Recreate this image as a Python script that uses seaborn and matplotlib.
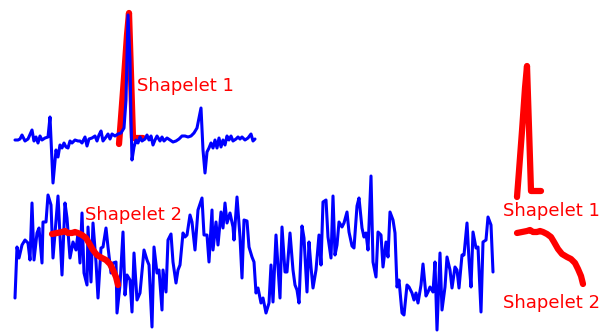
import matplotlib
matplotlib.use("Agg")
import matplotlib.pyplot as plt
import seaborn as sns
import pandas as pd

sns.set_theme(style="white")
plt.rcParams["font.family"] = ["DejaVu Sans"]

# Upper series (ECG-like trace): time stamps and values (screen units, y grows downward)
top_t = [15, 18, 20, 22, 25, 28, 32, 34, 36, 38, 40, 42, 45, 48, 50, 53, 56, 58, 60, 62,
         64, 66, 68, 70, 72, 75, 78, 80, 82, 85, 87, 89, 92, 95, 97, 99, 101, 103, 106, 108,
         110, 112, 115, 118, 121, 124, 126, 128, 130, 131, 132, 134, 136, 138, 140, 142, 145, 147, 149, 151,
         153, 155, 157, 160, 162, 164, 167, 170, 173, 176, 179, 182, 185, 188, 191, 194, 197, 201, 203, 205,
         207, 209, 211, 213, 215, 217, 219, 221, 223, 225, 227, 229, 231, 233, 236, 238, 240, 242, 245, 248,
         251, 253, 255]
top_v = [140, 140, 139, 135, 141, 139, 130, 141, 137, 143, 136, 140, 138, 137, 117, 183, 150, 157, 145, 148,
         143, 147, 148, 141, 143, 140, 141, 141, 143, 137, 146, 139, 138, 136, 141, 135, 131, 141, 137, 134,
         139, 134, 136, 134, 133, 128, 100, 15, 60, 120, 160, 147, 140, 143, 137, 141, 139, 135, 140, 136,
         145, 140, 136, 141, 137, 141, 138, 140, 142, 141, 139, 136, 136, 137, 136, 133, 128, 108, 150, 173,
         152, 148, 143, 148, 140, 148, 138, 147, 140, 145, 136, 140, 136, 141, 139, 137, 139, 137, 140, 138,
         134, 141, 139]

# Lower series (noisy trace)
bot_t = [15, 17, 19, 22, 25, 28, 30, 32, 34, 37, 39, 42, 43, 46, 48, 51, 53, 58, 62, 65,
         67, 70, 73, 76, 78, 80, 82, 84, 87, 88, 91, 93, 96, 98, 101, 103, 106, 108, 111, 113,
         116, 117, 120, 123, 125, 127, 130, 132, 134, 137, 140, 144, 147, 149, 152, 154, 157, 159, 162, 163,
         166, 168, 171, 173, 176, 178, 180, 183, 185, 187, 190, 192, 195, 198, 202, 204, 207, 209, 212, 213,
         216, 218, 221, 223, 225, 227, 230, 233, 234, 237, 240, 242, 244, 247, 249, 252, 254, 256, 258, 261,
         263, 266, 269, 271, 273, 276, 278, 280, 282, 285, 287, 290, 293, 295, 297, 299, 302, 304, 307, 309,
         311, 313, 316, 319, 321, 323, 326, 328, 331, 333, 335, 337, 339, 342, 344, 347, 349, 352, 354, 357,
         359, 362, 364, 366, 368, 371, 373, 376, 378, 381, 383, 386, 388, 390, 393, 395, 397, 399, 402, 404,
         407, 409, 412, 414, 416, 418, 421, 423, 426, 428, 430, 433, 435, 437, 440, 442, 445, 447, 450, 452,
         455, 457, 459, 462, 464, 467, 469, 471, 473, 476, 478, 481, 483, 486, 488, 491, 493]
bot_v = [298, 247, 258, 245, 240, 243, 260, 203, 260, 233, 228, 263, 222, 222, 195, 205, 258, 196, 275, 203,
         218, 258, 242, 250, 233, 263, 213, 273, 285, 227, 282, 223, 262, 298, 248, 247, 228, 247, 273, 263,
         262, 313, 285, 232, 295, 275, 280, 312, 253, 300, 293, 250, 260, 265, 327, 247, 273, 270, 310, 270,
         292, 240, 234, 262, 283, 270, 265, 233, 237, 235, 215, 222, 250, 210, 198, 235, 235, 262, 210, 250,
         222, 245, 212, 228, 203, 223, 213, 227, 240, 197, 237, 278, 220, 221, 247, 257, 262, 293, 288, 303,
         298, 313, 303, 265, 302, 235, 267, 298, 227, 272, 272, 233, 270, 285, 290, 303, 226, 238, 292, 242,
         267, 288, 270, 235, 265, 202, 200, 237, 258, 196, 255, 245, 222, 227, 223, 212, 232, 246, 248, 206,
         198, 228, 237, 233, 250, 176, 262, 277, 232, 235, 267, 242, 257, 212, 220, 233, 287, 280, 313, 315,
         285, 287, 293, 300, 293, 303, 285, 264, 296, 292, 287, 292, 262, 330, 253, 310, 287, 257, 270, 288,
         267, 270, 288, 255, 255, 223, 260, 287, 232, 248, 247, 312, 242, 240, 217, 225, 272]

# Shapelet 1 (sharp spike) and shapelet 2 (slow decline), as found in the series
s1_t = [119, 121, 124, 127, 129, 131, 133, 143]
s1_v = [144, 118, 78, 35, 13, 75, 138, 138]
s2_t = [52, 57, 62, 65, 68, 72, 75, 78, 82, 86, 89, 93, 97, 102, 106, 110, 113, 116, 118]
s2_v = [234, 233, 232, 231, 233, 233, 232, 233, 235, 238, 243, 250, 255, 258, 260, 264, 270, 277, 285]

labels = ["Shapelet 1", "Shapelet 2"]

BLUE = "#0000ff"
RED = "#ff0000"

fig = plt.figure(figsize=(6.13, 3.32), dpi=100)
ax = fig.add_axes([0, 0, 1, 1])


def draw(t, v, color, lw, z, dt=0, dv=0):
    df = pd.DataFrame({"t": [x + dt for x in t], "v": [y + dv for y in v]})
    sns.lineplot(data=df, x="t", y="v", ax=ax, color=color, linewidth=lw,
                 sort=False, estimator=None, zorder=z,
                 solid_capstyle="round", solid_joinstyle="round")


# shapelets in place on the series
draw(s1_t, s1_v, RED, 4.5, 2)
draw(top_t, top_v, BLUE, 2.2, 3)
draw(bot_t, bot_v, BLUE, 2.2, 2)
draw(s2_t, s2_v, RED, 4.5, 3)

# extracted shapelets on the right
draw(s1_t, s1_v, RED, 4.5, 3, dt=398, dv=53)
draw(s2_t, s2_v, RED, 4.5, 3, dt=465, dv=-1)

txt = dict(color=RED, fontsize=13, ha="left", va="baseline", zorder=4)
ax.text(137, 91, labels[0], **txt)
ax.text(85, 220, labels[1], **txt)
ax.text(503, 216, labels[0], **txt)
ax.text(503, 308, labels[1], **txt)

ax.set_xlim(0, 613)
ax.set_ylim(332, 0)
ax.set_axis_off()
if ax.get_legend() is not None:
    ax.get_legend().remove()

fig.savefig("out.png", dpi=100, facecolor="white")
